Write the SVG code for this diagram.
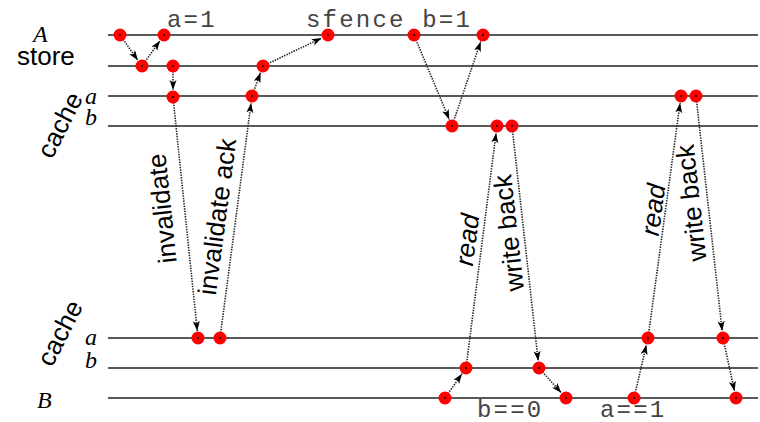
<svg xmlns="http://www.w3.org/2000/svg" width="760" height="422" viewBox="0 0 760 422">
<defs>
<style>
.ln{stroke:#222;stroke-width:1.6;fill:none}
.cn{stroke:#222;stroke-width:1.6;fill:none;stroke-dasharray:1.4 1.2;marker-end:url(#ah)}
.dot{fill:#ff0000}
.ctr{fill:#000}
.sans{font-family:"Liberation Sans",Arial,sans-serif;font-size:26px;fill:#000}
.ser{font-family:"Liberation Serif","Times New Roman",serif;font-style:italic;font-size:24px;fill:#000}
.mono{font-family:"Liberation Mono","Courier New",monospace;font-size:24px;fill:#444;letter-spacing:2.2px}
</style>
<marker id="ah" markerUnits="userSpaceOnUse" markerWidth="11" markerHeight="8" refX="10" refY="3.5" orient="auto">
<path d="M0,0 L10,3.5 L0,7 L2.5,3.5 z" fill="#000"/>
</marker>
<g id="pt"><circle class="dot" r="6.5"/><circle class="ctr" r="1"/></g>
</defs>
<rect width="760" height="422" fill="#fff"/>

<g id="timelines">
<line class="ln" x1="108" y1="35" x2="758" y2="35"/>
<line class="ln" x1="108" y1="66" x2="758" y2="66"/>
<line class="ln" x1="108" y1="96" x2="758" y2="96"/>
<line class="ln" x1="108" y1="126" x2="758" y2="126"/>
<line class="ln" x1="108" y1="338" x2="758" y2="338"/>
<line class="ln" x1="108" y1="368" x2="758" y2="368"/>
<line class="ln" x1="108" y1="398" x2="758" y2="398"/>
</g>

<g id="labels">
<text class="ser" x="33" y="42">A</text>
<text class="sans" x="17" y="65">store</text>
<text class="sans" transform="translate(52,160) rotate(-63)">cache</text>
<text class="ser" x="85" y="104">a</text>
<text class="ser" x="85" y="125">b</text>
<text class="sans" transform="translate(52,368) rotate(-63)">cache</text>
<text class="ser" x="85" y="345">a</text>
<text class="ser" x="85" y="368">b</text>
<text class="ser" x="37" y="408">B</text>
<text class="mono" x="167" y="27">a=1</text>
<text class="mono" x="306" y="27">sfence b=1</text>
<text class="mono" x="477" y="417">b==0</text>
<text class="mono" x="600" y="417">a==1</text>
</g>

<g id="connectors">
<line class="cn" x1="120" y1="35" x2="137.9" y2="60.3"/>
<line class="cn" x1="142" y1="66" x2="160" y2="40.7"/>
<line class="cn" x1="173" y1="66" x2="173" y2="90"/>
<line class="cn" x1="173" y1="97" x2="197.3" y2="331"/>
<line class="cn" x1="220" y1="338" x2="251.1" y2="102.9"/>
<line class="cn" x1="252" y1="96" x2="260.6" y2="72.6"/>
<line class="cn" x1="263" y1="66" x2="321.7" y2="38"/>
<line class="cn" x1="414" y1="35" x2="449.3" y2="119.5"/>
<line class="cn" x1="452" y1="126" x2="480.7" y2="41.6"/>
<line class="cn" x1="466" y1="368" x2="496.1" y2="132.9"/>
<line class="cn" x1="512" y1="126" x2="538.2" y2="361"/>
<line class="cn" x1="445" y1="398" x2="462" y2="373.7"/>
<line class="cn" x1="539" y1="368" x2="561.3" y2="392.8"/>
<line class="cn" x1="634" y1="398" x2="646.4" y2="344.8"/>
<line class="cn" x1="648" y1="338" x2="680.1" y2="102.9"/>
<line class="cn" x1="696" y1="96" x2="722.2" y2="331"/>
<line class="cn" x1="723" y1="338" x2="734.5" y2="391.2"/>
</g>

<g id="connector-labels">
<text class="sans" text-anchor="middle" transform="translate(171,207.5) rotate(-95.9)">invalidate</text>
<text class="sans" text-anchor="middle" transform="translate(226,218) rotate(-82.5)">invalidate ack</text>
<text class="sans" text-anchor="middle" font-style="italic" transform="translate(476,241) rotate(-82.7)">read</text>
<text class="sans" text-anchor="middle" transform="translate(517.5,232) rotate(-96.4)">write back</text>
<text class="sans" text-anchor="middle" font-style="italic" transform="translate(662,211) rotate(-82.2)">read</text>
<text class="sans" text-anchor="middle" transform="translate(700,202) rotate(-96.4)">write back</text>
</g>

<g id="events">
<use href="#pt" x="120" y="35"/>
<use href="#pt" x="164" y="35"/>
<use href="#pt" x="328" y="35"/>
<use href="#pt" x="414" y="35"/>
<use href="#pt" x="483" y="35"/>
<use href="#pt" x="142" y="66"/>
<use href="#pt" x="173" y="66"/>
<use href="#pt" x="263" y="66"/>
<use href="#pt" x="173" y="97"/>
<use href="#pt" x="252" y="96"/>
<use href="#pt" x="681" y="96"/>
<use href="#pt" x="696" y="96"/>
<use href="#pt" x="452" y="126"/>
<use href="#pt" x="497" y="126"/>
<use href="#pt" x="512" y="126"/>
<use href="#pt" x="198" y="338"/>
<use href="#pt" x="220" y="338"/>
<use href="#pt" x="648" y="338"/>
<use href="#pt" x="723" y="338"/>
<use href="#pt" x="466" y="368"/>
<use href="#pt" x="539" y="368"/>
<use href="#pt" x="445" y="398"/>
<use href="#pt" x="566" y="398"/>
<use href="#pt" x="634" y="398"/>
<use href="#pt" x="736" y="398"/>
</g>
</svg>
